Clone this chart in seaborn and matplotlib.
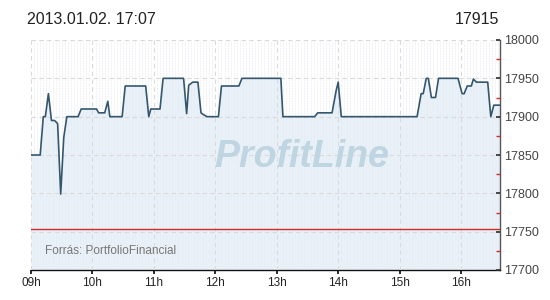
import numpy as np
import pandas as pd
import matplotlib
matplotlib.use("Agg")
import matplotlib.pyplot as plt
import seaborn as sns
from matplotlib.ticker import MultipleLocator, FixedLocator

# ---- data ----
times = ["09:00", "09:09", "09:12", "09:14", "09:17", "09:20", "09:23", "09:26",
         "09:29", "09:32", "09:35", "09:46", "09:49", "10:04", "10:06", "10:12",
         "10:15", "10:17", "10:29", "10:32", "10:52", "10:55", "10:57", "11:06",
         "11:09", "11:29", "11:32", "11:34", "11:38", "11:43", "11:46", "11:48",
         "11:52", "12:03", "12:06", "12:23", "12:26", "13:04", "13:06", "13:37",
         "13:40", "13:54", "13:58", "14:00", "14:03", "15:17", "15:21", "15:23",
         "15:26", "15:28", "15:31", "15:35", "15:38", "15:57", "16:01", "16:03",
         "16:06", "16:10", "16:12", "16:15", "16:26", "16:29", "16:32", "16:38"]
values = [17850, 17850, 17900, 17900, 17930, 17895, 17895, 17891,
          17799, 17873, 17900, 17900, 17910, 17910, 17905, 17905,
          17920, 17900, 17900, 17940, 17940, 17900, 17910, 17910,
          17950, 17950, 17904, 17941, 17945, 17945, 17905, 17903,
          17900, 17900, 17940, 17940, 17950, 17950, 17900, 17900,
          17905, 17905, 17934, 17945, 17900, 17900, 17930, 17930,
          17950, 17950, 17925, 17925, 17950, 17950, 17930, 17930,
          17940, 17940, 17949, 17945, 17945, 17900, 17915, 17915]
reference_level = 17754
hour_ticks = [9, 10, 11, 12, 13, 14, 15, 16]
hour_labels = ["09h", "10h", "11h", "12h", "13h", "14h", "15h", "16h"]
y_ticks = [17700, 17750, 17800, 17850, 17900, 17950, 18000]
title_left = "2013.01.02. 17:07"
title_right = "17915"
source_text = "Forrás: PortfolioFinancial"
watermark = "ProfitLine"

hours = [int(t[:2]) + int(t[3:]) / 60 for t in times]
df = pd.DataFrame({"hour": hours, "value": values})

sns.set_theme(style="white")
plt.rcParams["font.family"] = ["Liberation Sans", "DejaVu Sans"]

fig = plt.figure(figsize=(5.5, 3.0), dpi=100)
ax = fig.add_axes([31 / 550, 30 / 300, 469 / 550, 230 / 300])

xmin, xmax = 9.0, 9 + 458 / 60
ymin, ymax = 17700, 18000

ax.fill_between(df["hour"], df["value"], ymin, color="#e9f1f8", zorder=1, lw=0)
sns.lineplot(data=df, x="hour", y="value", ax=ax, color="#34576e", lw=1.2, zorder=4)
ax.axhline(reference_level, color="#d42a2a", lw=1.0, zorder=3)

ax.set_xlim(xmin, xmax)
ax.set_ylim(ymin, ymax)

# grid
ax.xaxis.set_major_locator(FixedLocator(hour_ticks))
ax.set_xticklabels(hour_labels)
ax.xaxis.set_minor_locator(MultipleLocator(3 / 60))
ax.yaxis.set_major_locator(FixedLocator(y_ticks))
ax.yaxis.set_minor_locator(MultipleLocator(25))
ax.grid(which="major", axis="both", color="#dadada", ls=(0, (4, 3)), lw=0.8, zorder=2)
ax.grid(which="minor", axis="x", color="#e6e9ee", ls=(0, (1, 1)), lw=0.6, zorder=2)
ax.set_axisbelow(False)

# axes styling
ax.yaxis.tick_right()
ax.yaxis.set_label_position("right")
for s in ["top", "left"]:
    ax.spines[s].set_visible(False)
ax.spines["right"].set_color("#555555")
ax.spines["right"].set_linewidth(1.0)
ax.spines["bottom"].set_color("#111111")
ax.spines["bottom"].set_linewidth(1.0)
ax.tick_params(axis="y", which="major", direction="in", length=3, color="#333333",
               labelsize=9, labelcolor="#444444", pad=3, right=True, left=False)
ax.tick_params(axis="y", which="minor", direction="in", length=3, color="#d42a2a",
               right=True, left=False)
ax.tick_params(axis="x", which="major", direction="out", length=3, color="#111111",
               labelsize=8.5, labelcolor="#222222", pad=2, bottom=True)
ax.tick_params(axis="x", which="minor", bottom=False)
ax.set_xlabel("")
ax.set_ylabel("")

# texts
fig.text(27 / 550, 1 - 20 / 300, title_left, fontsize=11.5, color="#222222",
         ha="left", va="center")
fig.text(499 / 550, 1 - 20 / 300, title_right, fontsize=11.5, color="#222222",
         ha="right", va="center")
ax.text(0.03, 0.055, source_text, transform=ax.transAxes, fontsize=8.5,
        color="#777777", ha="left", va="bottom", zorder=5)
ax.text(0.577, 0.49, watermark, transform=ax.transAxes, fontsize=27,
        fontweight="bold", fontstyle="italic", color="#bfd5e2",
        ha="center", va="center", zorder=3)

fig.savefig("out.png", dpi=100)
